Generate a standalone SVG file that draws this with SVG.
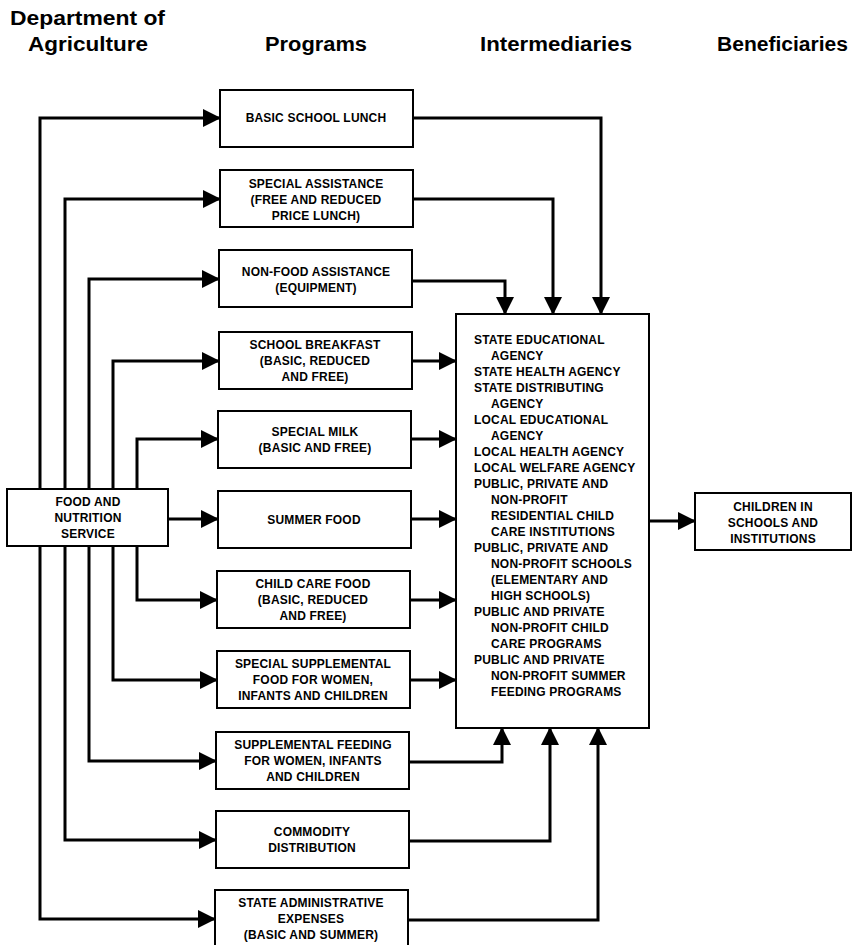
<svg xmlns="http://www.w3.org/2000/svg" width="852" height="945" viewBox="0 0 852 945">
<style>
.hdr{font-family:"Liberation Sans",Arial,sans-serif;font-weight:bold;font-size:20px;fill:#000}
.t{font-family:"Liberation Sans",Arial,sans-serif;font-weight:bold;font-size:12px;fill:#000;text-anchor:middle;letter-spacing:0.2px}
.tl{font-family:"Liberation Sans",Arial,sans-serif;font-weight:bold;font-size:12px;fill:#000;letter-spacing:0.2px}
.box{fill:#fff;stroke:#000;stroke-width:2}
.c{fill:none;stroke:#000;stroke-width:3;marker-end:url(#ah)}
</style>
<defs>
<marker id="ah" markerUnits="userSpaceOnUse" markerWidth="18" markerHeight="18" refX="17" refY="9" orient="auto" viewBox="0 0 18 18">
<path d="M0,0 L18,9 L0,18 z" fill="#000"/>
</marker>
</defs>
<g id="headers">
<text class="hdr" x="10" y="25" textLength="155" lengthAdjust="spacingAndGlyphs">Department of</text>
<text class="hdr" x="28" y="51" textLength="120" lengthAdjust="spacingAndGlyphs">Agriculture</text>
<text class="hdr" x="265" y="51" textLength="102" lengthAdjust="spacingAndGlyphs">Programs</text>
<text class="hdr" x="480" y="51" textLength="152" lengthAdjust="spacingAndGlyphs">Intermediaries</text>
<text class="hdr" x="717" y="51" textLength="131" lengthAdjust="spacingAndGlyphs">Beneficiaries</text>
</g>
<g id="connectors">
<path class="c" d="M40,489 V118 H220"/>
<path class="c" d="M65,489 V199 H220"/>
<path class="c" d="M89,489 V279 H219"/>
<path class="c" d="M113,489 V361 H219"/>
<path class="c" d="M137,489 V439 H218"/>
<path class="c" d="M168,519 H218"/>
<path class="c" d="M137,546 V600 H217"/>
<path class="c" d="M113,546 V680 H217"/>
<path class="c" d="M89,546 V761 H216"/>
<path class="c" d="M65,546 V840 H216"/>
<path class="c" d="M40,546 V919 H215"/>
<path class="c" d="M413,118 H601 V314"/>
<path class="c" d="M413,199 H553 V314"/>
<path class="c" d="M412,281 H505 V314"/>
<path class="c" d="M412,361 H456"/>
<path class="c" d="M411,439 H456"/>
<path class="c" d="M411,519 H456"/>
<path class="c" d="M410,600 H456"/>
<path class="c" d="M410,680 H456"/>
<path class="c" d="M409,762 H502 V728"/>
<path class="c" d="M409,841 H550 V728"/>
<path class="c" d="M408,920 H598 V728"/>
<path class="c" d="M649,521 H695"/>
</g>
<g id="fns">
<rect class="box" x="7" y="489" width="161" height="57"/>
<text class="t" x="88" y="506">FOOD AND</text>
<text class="t" x="88" y="522">NUTRITION</text>
<text class="t" x="88" y="538">SERVICE</text>
</g>
<g id="p1">
<rect class="box" x="220" y="90" width="193" height="57"/>
<text class="t" x="316" y="122">BASIC SCHOOL LUNCH</text>
</g>
<g id="p2">
<rect class="box" x="220" y="170" width="193" height="57"/>
<text class="t" x="316" y="188">SPECIAL ASSISTANCE</text>
<text class="t" x="316" y="204">(FREE AND REDUCED</text>
<text class="t" x="316" y="220">PRICE LUNCH)</text>
</g>
<g id="p3">
<rect class="box" x="219" y="250" width="193" height="57"/>
<text class="t" x="316" y="276">NON-FOOD ASSISTANCE</text>
<text class="t" x="316" y="292">(EQUIPMENT)</text>
</g>
<g id="p4">
<rect class="box" x="219" y="332" width="193" height="57"/>
<text class="t" x="315" y="349">SCHOOL BREAKFAST</text>
<text class="t" x="315" y="365">(BASIC, REDUCED</text>
<text class="t" x="315" y="381">AND FREE)</text>
</g>
<g id="p5">
<rect class="box" x="218" y="411" width="193" height="57"/>
<text class="t" x="315" y="436">SPECIAL MILK</text>
<text class="t" x="315" y="452">(BASIC AND FREE)</text>
</g>
<g id="p6">
<rect class="box" x="218" y="491" width="193" height="57"/>
<text class="t" x="314" y="524">SUMMER FOOD</text>
</g>
<g id="p7">
<rect class="box" x="217" y="571" width="193" height="57"/>
<text class="t" x="313" y="588">CHILD CARE FOOD</text>
<text class="t" x="313" y="604">(BASIC, REDUCED</text>
<text class="t" x="313" y="620">AND FREE)</text>
</g>
<g id="p8">
<rect class="box" x="217" y="651" width="193" height="57"/>
<text class="t" x="313" y="668">SPECIAL SUPPLEMENTAL</text>
<text class="t" x="313" y="684">FOOD FOR WOMEN,</text>
<text class="t" x="313" y="700">INFANTS AND CHILDREN</text>
</g>
<g id="p9">
<rect class="box" x="216" y="732" width="193" height="57"/>
<text class="t" x="313" y="749">SUPPLEMENTAL FEEDING</text>
<text class="t" x="313" y="765">FOR WOMEN, INFANTS</text>
<text class="t" x="313" y="781">AND CHILDREN</text>
</g>
<g id="p10">
<rect class="box" x="216" y="811" width="193" height="57"/>
<text class="t" x="312" y="836">COMMODITY</text>
<text class="t" x="312" y="852">DISTRIBUTION</text>
</g>
<g id="p11">
<rect class="box" x="215" y="890" width="193" height="57"/>
<text class="t" x="311" y="907">STATE ADMINISTRATIVE</text>
<text class="t" x="311" y="923">EXPENSES</text>
<text class="t" x="311" y="939">(BASIC AND SUMMER)</text>
</g>
<g id="intermediaries">
<rect class="box" x="456" y="314" width="193" height="414"/>
<text class="tl" x="474" y="344">STATE EDUCATIONAL</text>
<text class="tl" x="491" y="360">AGENCY</text>
<text class="tl" x="474" y="376">STATE HEALTH AGENCY</text>
<text class="tl" x="474" y="392">STATE DISTRIBUTING</text>
<text class="tl" x="491" y="408">AGENCY</text>
<text class="tl" x="474" y="424">LOCAL EDUCATIONAL</text>
<text class="tl" x="491" y="440">AGENCY</text>
<text class="tl" x="474" y="456">LOCAL HEALTH AGENCY</text>
<text class="tl" x="474" y="472">LOCAL WELFARE AGENCY</text>
<text class="tl" x="474" y="488">PUBLIC, PRIVATE AND</text>
<text class="tl" x="491" y="504">NON-PROFIT</text>
<text class="tl" x="491" y="520">RESIDENTIAL CHILD</text>
<text class="tl" x="491" y="536">CARE INSTITUTIONS</text>
<text class="tl" x="474" y="552">PUBLIC, PRIVATE AND</text>
<text class="tl" x="491" y="568">NON-PROFIT SCHOOLS</text>
<text class="tl" x="491" y="584">(ELEMENTARY AND</text>
<text class="tl" x="491" y="600">HIGH SCHOOLS)</text>
<text class="tl" x="474" y="616">PUBLIC AND PRIVATE</text>
<text class="tl" x="491" y="632">NON-PROFIT CHILD</text>
<text class="tl" x="491" y="648">CARE PROGRAMS</text>
<text class="tl" x="474" y="664">PUBLIC AND PRIVATE</text>
<text class="tl" x="491" y="680">NON-PROFIT SUMMER</text>
<text class="tl" x="491" y="696">FEEDING PROGRAMS</text>
</g>
<g id="beneficiaries">
<rect class="box" x="695" y="493" width="156" height="57"/>
<text class="t" x="773" y="511">CHILDREN IN</text>
<text class="t" x="773" y="527">SCHOOLS AND</text>
<text class="t" x="773" y="543">INSTITUTIONS</text>
</g>
</svg>
